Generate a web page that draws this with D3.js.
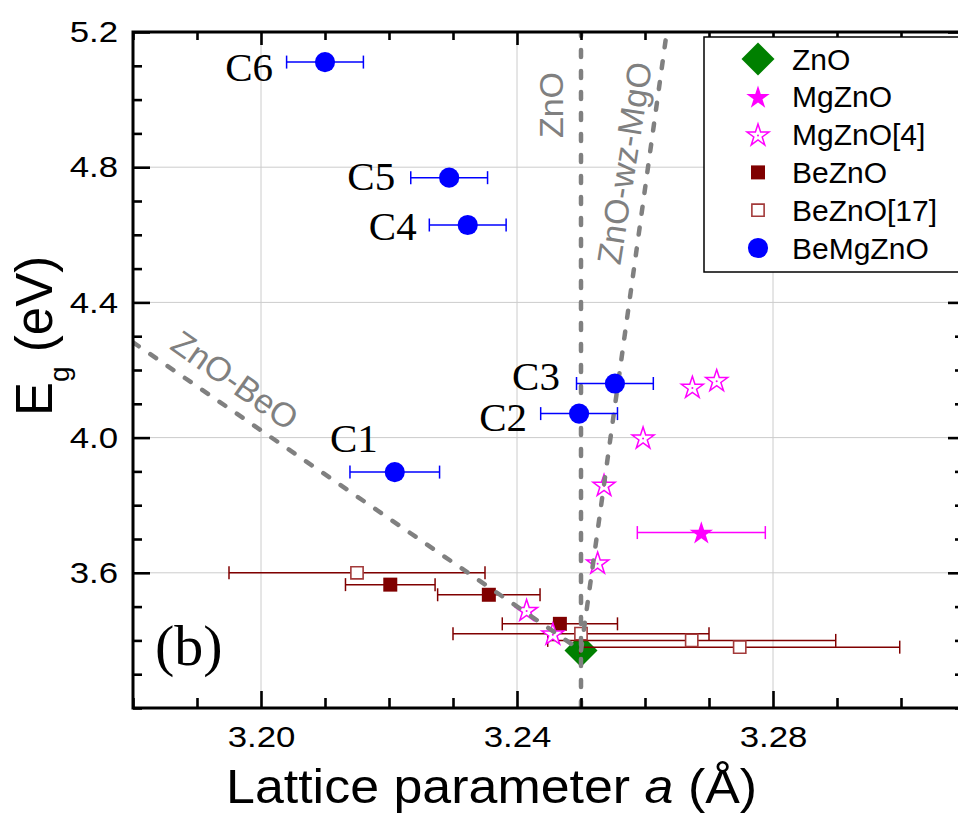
<!DOCTYPE html>
<html><head><meta charset="utf-8">
<script src="https://cdn.jsdelivr.net/npm/d3@7/dist/d3.min.js"></script>
<style>body{margin:0;background:#fff} svg{display:block}</style>
</head><body><svg id="c" width="958" height="816"></svg>
<script>
// ---------- data ----------
const xTicksMajor = [3.20, 3.24, 3.28];
const xTickLabels = ["3.20", "3.24", "3.28"];
const yTicksMajor = [3.6, 4.0, 4.4, 4.8, 5.2];
const yTickLabels = ["3.6", "4.0", "4.4", "4.8", "5.2"];

const znoA = [3.25];
const znoEg = [3.37];

const mgznoA = [3.2688];
const mgznoEg = [3.719];
const mgznoErr = [0.010];

const mgzno4A = [3.2415, 3.2456, 3.2526, 3.2536, 3.2597, 3.2674, 3.2712];
const mgzno4Eg = [3.49, 3.42, 3.63, 3.86, 4.00, 4.15, 4.17];

const beznoA = [3.2202, 3.2356, 3.2467];
const beznoEg = [3.565, 3.535, 3.449];
const beznoErr = [0.007, 0.008, 0.009];

const bezno17A = [3.215, 3.25, 3.2673, 3.2748];
const bezno17Eg = [3.60, 3.42, 3.40, 3.38];
const bezno17Err = [0.020, 0.020, 0.0225, 0.025];

const bemgznoNames = ["C1", "C2", "C3", "C4", "C5", "C6"];
const bemgznoA = [3.2209, 3.2497, 3.2553, 3.2323, 3.2294, 3.2100];
const bemgznoEg = [3.898, 4.071, 4.160, 4.629, 4.769, 5.111];
const bemgznoErr = [0.007, 0.006, 0.006, 0.006, 0.006, 0.006];

const guideNames = ["ZnO", "ZnO-wz-MgO", "ZnO-BeO"];
const guideA = [[3.25, 3.25], [3.25, 3.2634], [3.18, 3.25]];
const guideEg = [[3.2, 5.2], [3.37, 5.2], [4.282, 3.37]];

const legendNames = ["ZnO", "MgZnO", "MgZnO[4]", "BeZnO", "BeZnO[17]", "BeMgZnO"];

// ---------- layout ----------
const X0 = 133, X1 = 965, Y0 = 32, Y1 = 708;
const svg = d3.select("#c");
const x = d3.scaleLinear().domain([3.18, 3.31]).range([X0, X1]);
const y = d3.scaleLinear().domain([3.2, 5.2]).range([Y1, Y0]);

const SANS = "'Liberation Sans', Arial, sans-serif";
const SERIF = "'Liberation Serif', 'Times New Roman', serif";
const GREEN = "#008000", MAG = "#ff00ff", DRED = "#800000", ORED = "#a33a3a", BLUE = "#0000ff", GRAY = "#808080";

// clip
svg.append("defs").append("clipPath").attr("id", "pc")
  .append("rect").attr("x", X0).attr("y", Y0).attr("width", X1 - X0).attr("height", Y1 - Y0);

// gridlines
const grid = svg.append("g");
grid.selectAll("line.v").data(xTicksMajor).join("line").attr("class", "v")
  .attr("x1", d => x(d)).attr("x2", d => x(d)).attr("y1", Y0).attr("y2", Y1)
  .attr("stroke", "#cccccc").attr("stroke-width", 1);
grid.selectAll("line.h").data(yTicksMajor.filter(d => d < 5.2)).join("line").attr("class", "h")
  .attr("y1", d => y(d)).attr("y2", d => y(d)).attr("x1", X0).attr("x2", X1)
  .attr("stroke", "#cccccc").attr("stroke-width", 1);

const plot = svg.append("g").attr("clip-path", "url(#pc)");

function errBars(A, E, Err, color) {
  const g = plot.append("g").attr("stroke", color).attr("stroke-width", 1.5).attr("fill", "none");
  A.forEach((a, i) => {
    const yy = y(E[i]), xl = x(a - Err[i]), xr = x(a + Err[i]);
    g.append("line").attr("x1", xl).attr("x2", xr).attr("y1", yy).attr("y2", yy);
    g.append("line").attr("x1", xl).attr("x2", xl).attr("y1", yy - 6.5).attr("y2", yy + 6.5);
    g.append("line").attr("x1", xr).attr("x2", xr).attr("y1", yy - 6.5).attr("y2", yy + 6.5);
  });
}
const pathOf = (type, size) => d3.symbol().type(type).size(size)();

function drawSymbol(g, kind, cx, cy) {
  if (kind === 0) {
    g.append("path").attr("d", pathOf(d3.symbolSquare, 544))
      .attr("transform", `translate(${cx},${cy}) rotate(45)`).attr("fill", GREEN);
  } else if (kind === 1) {
    g.append("path").attr("d", pathOf(d3.symbolStar, 170))
      .attr("transform", `translate(${cx},${cy+1})`).attr("fill", MAG);
  } else if (kind === 2) {
    g.append("path").attr("d", pathOf(d3.symbolStar, 150))
      .attr("transform", `translate(${cx},${cy+1})`).attr("fill", "#fff")
      .attr("stroke", MAG).attr("stroke-width", 1.5);
    g.append("circle").attr("cx", cx).attr("cy", cy + 1).attr("r", 1).attr("fill", MAG);
  } else if (kind === 3) {
    g.append("path").attr("d", pathOf(d3.symbolSquare, 196))
      .attr("transform", `translate(${cx},${cy})`).attr("fill", DRED);
  } else if (kind === 4) {
    g.append("path").attr("d", pathOf(d3.symbolSquare, 150))
      .attr("transform", `translate(${cx},${cy})`).attr("fill", "#fff")
      .attr("stroke", ORED).attr("stroke-width", 1.6);
  } else {
    g.append("path").attr("d", pathOf(d3.symbolCircle, 320))
      .attr("transform", `translate(${cx},${cy})`).attr("fill", BLUE);
  }
}

// ZnO
const gZ = plot.append("g");
znoA.forEach((a, i) => drawSymbol(gZ, 0, x(a), y(znoEg[i])));
// BeZnO[17]
errBars(bezno17A, bezno17Eg, bezno17Err, DRED);
const gB17 = plot.append("g");
bezno17A.forEach((a, i) => drawSymbol(gB17, 4, x(a), y(bezno17Eg[i])));
// BeZnO
errBars(beznoA, beznoEg, beznoErr, DRED);
const gB = plot.append("g");
beznoA.forEach((a, i) => drawSymbol(gB, 3, x(a), y(beznoEg[i])));
// MgZnO
errBars(mgznoA, mgznoEg, mgznoErr, MAG);
const gM = plot.append("g");
mgznoA.forEach((a, i) => drawSymbol(gM, 1, x(a), y(mgznoEg[i])));
const gM4 = plot.append("g");
mgzno4A.forEach((a, i) => drawSymbol(gM4, 2, x(a), y(mgzno4Eg[i])));

// guide lines
const line = d3.line().x(d => x(d[0])).y(d => y(d[1]));
guideA.forEach((A, i) => {
  plot.append("path").attr("d", line(A.map((a, j) => [a, guideEg[i][j]])))
    .attr("fill", "none").attr("stroke", GRAY).attr("stroke-width", 4.5)
    .attr("stroke-dasharray", "7,14").attr("stroke-linecap", "round");
});

// BeMgZnO
errBars(bemgznoA, bemgznoEg, bemgznoErr, BLUE);
const gC = plot.append("g");
bemgznoA.forEach((a, i) => drawSymbol(gC, 5, x(a), y(bemgznoEg[i])));

// sample labels
const labDx = [-17, -52, -55, -51, -54, -52];
const labDy = [-20, 17, 6, 15, 12, 19];
svg.append("g").selectAll("text").data(bemgznoNames).join("text")
  .attr("x", (d, i) => x(bemgznoA[i]) + labDx[i])
  .attr("y", (d, i) => y(bemgznoEg[i]) + labDy[i])
  .attr("text-anchor", "end").attr("font-family", SERIF).attr("font-size", 41)
  .attr("fill", "#000").text(d => d);

// guide labels
const guideLabelPos = [[550.5, 105, -90], [624, 163, -81], [235, 380, 35]];
guideNames.forEach((n, i) => {
  const p = guideLabelPos[i];
  svg.append("text").attr("transform", `translate(${p[0]},${p[1]}) rotate(${p[2]})`)
    .attr("text-anchor", "middle").attr("dy", "0.36em")
    .attr("font-family", SANS).attr("font-size", 34).attr("fill", GRAY).text(n);
});

// (b)
svg.append("text").attr("x", 155).attr("y", 665).attr("font-family", SERIF)
  .attr("font-size", 58).text("(b)");

// ---------- axes ----------
const minorX = d3.range(0, 14).map(i => +(3.18 + i * 0.01).toFixed(2)).filter(v => !xTicksMajor.includes(v));
const minorY = d3.range(0, 21).map(i => +(3.2 + i * 0.1).toFixed(1)).filter(v => !yTicksMajor.includes(v));

function styleAxis(g) {
  g.select(".domain").remove();
  g.selectAll(".tick line").attr("stroke", "#000").attr("stroke-width", 2.6);
  g.attr("font-family", SANS).attr("font-size", 30);
}
// bottom
const gBot = svg.append("g").attr("transform", `translate(0,${Y1})`);
gBot.append("g").call(d3.axisBottom(x).tickValues(minorX).tickSize(-10).tickFormat("")).call(styleAxis);
gBot.append("g").call(d3.axisBottom(x).tickValues(xTicksMajor).tickSize(-17).tickPadding(18)
  .tickFormat((d, i) => xTickLabels[i])).call(styleAxis);
gBot.selectAll(".tick text").attr("fill", "#000").attr("transform", "scale(1.16,1)");
// top
const gTop = svg.append("g").attr("transform", `translate(0,${Y0})`);
gTop.append("g").call(d3.axisTop(x).tickValues(minorX).tickSize(-8).tickFormat("")).call(styleAxis);
gTop.append("g").call(d3.axisTop(x).tickValues(xTicksMajor).tickSize(-13).tickFormat("")).call(styleAxis);
// left
const gL = svg.append("g").attr("transform", `translate(${X0},0)`);
gL.append("g").call(d3.axisLeft(y).tickValues(minorY).tickSize(-9).tickFormat("")).call(styleAxis);
gL.append("g").call(d3.axisLeft(y).tickValues(yTicksMajor).tickSize(-17).tickPadding(15)
  .tickFormat((d, i) => yTickLabels[i])).call(styleAxis);
gL.selectAll(".tick text").attr("fill", "#000").attr("x", -15 / 1.16).attr("transform", "scale(1.16,1)");
// right
const gR = svg.append("g").attr("transform", `translate(${X1},0)`);
gR.append("g").call(d3.axisRight(y).tickValues(minorY).tickSize(-10).tickFormat("")).call(styleAxis);
gR.append("g").call(d3.axisRight(y).tickValues(yTicksMajor).tickSize(-17).tickFormat("")).call(styleAxis);

// frame
svg.append("rect").attr("x", X0).attr("y", Y0).attr("width", X1 - X0).attr("height", Y1 - Y0)
  .attr("fill", "none").attr("stroke", "#000").attr("stroke-width", 3);

// axis titles
const xt = svg.append("text").attr("transform", "translate(226,803) scale(1.06,1)")
  .attr("font-family", SANS).attr("font-size", 49).attr("fill", "#000");
xt.append("tspan").text("Lattice parameter ");
xt.append("tspan").attr("font-style", "italic").text("a");
xt.append("tspan").text(" (Å)");

const yt = svg.append("text").attr("transform", "translate(52,416) rotate(-90)")
  .attr("font-family", SANS).attr("font-size", 51).attr("fill", "#000");
yt.append("tspan").text("E");
yt.append("tspan").attr("font-size", 28).attr("dy", 17).text("g");
yt.append("tspan").attr("dy", -17).text(" (eV)");

// ---------- legend ----------
const LX = 704, LY = 37;
const leg = svg.append("g");
leg.append("rect").attr("x", LX).attr("y", LY).attr("width", 280).attr("height", 235)
  .attr("fill", "#fff").attr("stroke", "#000").attr("stroke-width", 1.5);
legendNames.forEach((n, i) => {
  const cy = 59 + i * 37.8;
  drawSymbol(leg, i, 758, cy);
  leg.append("text").attr("x", 792).attr("y", cy + 10.5).attr("font-family", SANS)
    .attr("font-size", 30).attr("fill", "#000").text(n);
});
</script></body></html>
